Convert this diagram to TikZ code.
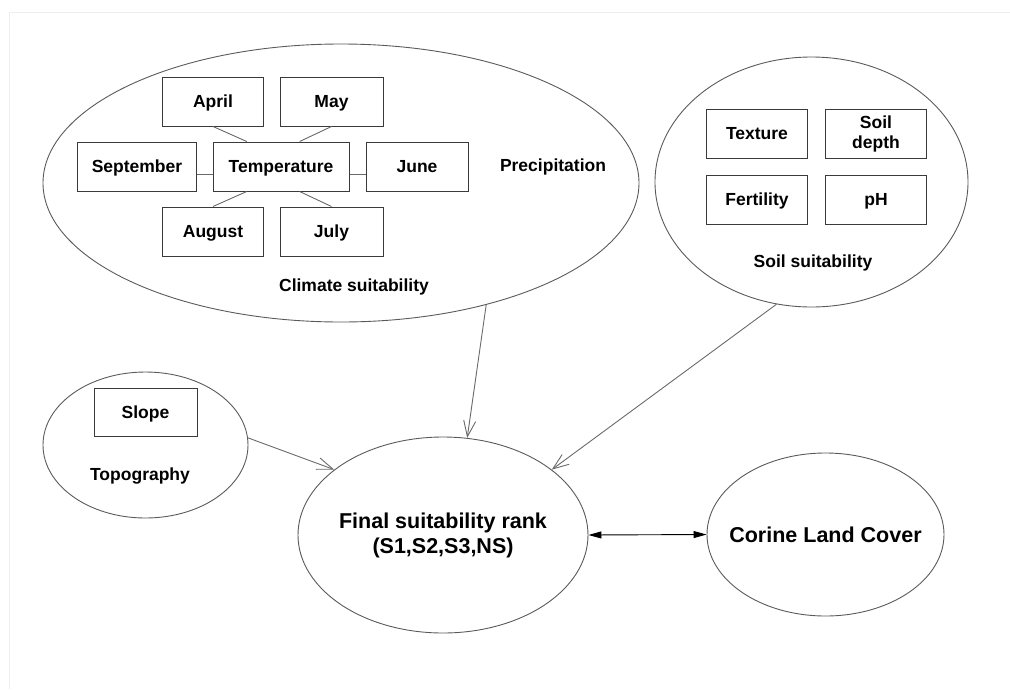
\documentclass[tikz,border=0pt]{standalone}
\usepackage{fontspec}
\setmainfont{Liberation Sans}
\usepackage{tikz}
\usetikzlibrary{shapes,arrows.meta,positioning,calc}

\definecolor{boxline}{HTML}{3A3A3A}
\definecolor{ringline}{HTML}{5A5A5A}
\definecolor{linkgray}{HTML}{6A6A6A}
\definecolor{framegray}{HTML}{EEEEEE}

\begin{document}
\begin{tikzpicture}[x=1pt,y=-1pt,
  factor/.style={shape=rectangle,draw=boxline,line width=1pt,minimum height=49pt,inner sep=0pt,align=center,font=\bfseries\fontsize{17.5}{20}\selectfont},
  cell/.style={factor,text height=12.7pt,text depth=0pt},
  group/.style={shape=ellipse,draw=ringline,line width=0.9pt,inner sep=0pt},
  grouptext/.style={font=\bfseries\fontsize{17.5}{20}\selectfont},
  feed/.style={draw=linkgray,line width=0.9pt,-{Straight Barb[length=16pt,width=12pt]}},
  link/.style={draw=linkgray,line width=0.9pt}]
\useasboundingbox (0,0) rectangle (1010,689);
\draw [framegray] (9.5,689) -- (9.5,12.5) -- (1010,12.5);

%climate group
\node [group,minimum width=596pt,minimum height=278pt] at (341,183) (climate) {};
\node [cell,minimum width=101.5pt] at (213,101.5) (april) {April};
\node [cell,minimum width=103pt] at (331.5,101.5) (may) {May};
\node [cell,minimum width=119pt] at (137,166.5) (sept) {September};
\node [cell,minimum width=136pt] at (281,166.5) (temp) {Temperature};
\node [cell,minimum width=102pt] at (417,166.5) (june) {June};
\node [cell,minimum width=101.5pt] at (213,231.5) (aug) {August};
\node [cell,minimum width=103pt] at (331.5,231.5) (july) {July};
\node [grouptext] at (553,167) (precip) {Precipitation};
\node [grouptext] at (354,287) (climate_txt) {Climate suitability};

%months around temperature
\draw [link] (april.south) -- ($(temp.north west)!0.25!(temp.north east)$);
\draw [link] (may.south) -- ($(temp.north west)!0.636!(temp.north east)$);
\draw [link] (aug.north) -- ($(temp.south west)!0.25!(temp.south east)$);
\draw [link] (july.north) -- ($(temp.south west)!0.636!(temp.south east)$);
\draw [link] ($(sept.north east)!0.65!(sept.south east)$) -- ($(temp.north west)!0.65!(temp.south west)$);
\draw [link] ($(temp.north east)!0.65!(temp.south east)$) -- ($(june.north west)!0.65!(june.south west)$);

%soil group
\node [group,minimum width=313pt,minimum height=250pt] at (811.5,182) (soil) {};
\node [cell,minimum width=101pt] at (757,133.5) (texture) {Texture};
\node [factor,minimum width=101pt] at (876,133.5) (depth) {Soil\\depth};
\node [cell,minimum width=101pt] at (757,199.5) (fert) {Fertility};
\node [cell,minimum width=101pt] at (876,199.5) (ph) {pH};
\node [grouptext] at (813,263) (soil_txt) {Soil suitability};

%topography group
\node [group,minimum width=205pt,minimum height=146pt] at (145.5,445) (topo) {};
\node [cell,minimum width=103pt,minimum height=48pt] at (145.5,412) (slope) {Slope};
\node [grouptext] at (140,476) (topo_txt) {Topography};

%final rank and land cover
\node [group,minimum width=290pt,minimum height=196pt,inner xsep=-8pt,align=center,font=\bfseries\fontsize{21.5}{25}\selectfont] at (443,535) (final) {Final suitability rank\\(S1,S2,S3,NS)};
\node [group,minimum width=237pt,minimum height=163pt,inner xsep=-16pt,font=\bfseries\fontsize{21.5}{25}\selectfont] at (825.5,534.5) (corine) {Corine Land Cover};

%arrows into final rank
\draw [feed] (climate.320) -- (final.76);
\draw [feed] (topo.4.5) -- (final.149);
\draw [feed] (soil.254) -- (final.31);
\draw [draw=black,line width=0.9pt,{Triangle[length=13pt,width=7pt]}-{Triangle[length=13pt,width=7pt]}] (final.east) -- (corine.west);

\end{tikzpicture}
\end{document}
